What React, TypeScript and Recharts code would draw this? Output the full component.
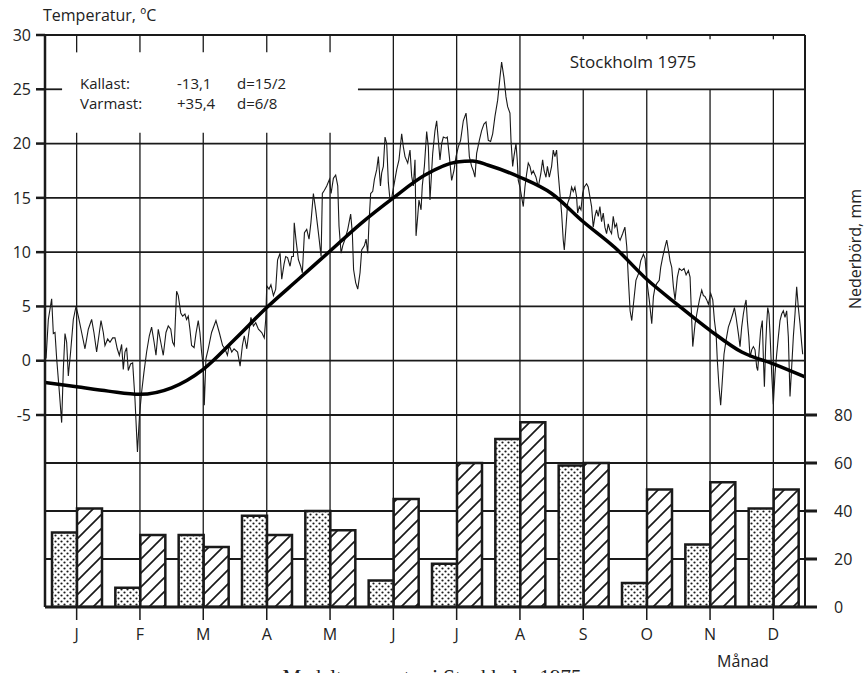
import { ComposedChart, Bar, Line, XAxis, YAxis, ReferenceLine } from 'recharts';

// month letters and mid-month positions (day of year, equal month widths)
const months = ['J', 'F', 'M', 'A', 'M', 'J', 'J', 'A', 'S', 'O', 'N', 'D'];
const monthMid = [15.2, 45.6, 76.0, 106.5, 136.9, 167.3, 197.7, 228.1, 258.5, 289.0, 319.4, 349.8];

// precipitation, mm: 1975 (dotted) and normal (hatched)
const rain1975 = [31, 8, 30, 38, 40, 11, 18, 70, 59, 10, 26, 41];
const rainNormal = [41, 30, 25, 30, 32, 45, 60, 77, 60, 49, 52, 49];

// normal temperature curve
const normalDay = [0, 15.2, 30.4, 45.6, 60.8, 76, 91.3, 106.5, 121.7, 136.9, 152.1, 167.3, 182.5, 197.7, 205.3, 212.9, 228.1, 243.3, 258.5, 273.8, 289, 304.2, 319.4, 334.6, 349.8, 365];
const normalTemp = [-2.0, -2.4, -2.8, -3.1, -2.5, -0.8, 2.0, 4.9, 7.5, 10.1, 12.7, 15.0, 17.1, 18.3, 18.4, 18.0, 16.9, 15.4, 12.8, 10.4, 7.5, 5.1, 2.8, 0.8, -0.3, -1.5];

// daily mean temperature 1975 (day of year, °C)
const dailyDay = [
  0.5, 1.6, 3.2, 4.0, 4.8, 5.6, 6.9, 8.0, 8.8, 9.6, 10.4, 11.2, 12.3, 13.6, 14.9, 16.0, 17.6, 19.2, 20.8, 22.4,
  23.5, 24.8, 26.1, 26.9, 28.0, 28.8, 30.1, 31.2, 32.5, 33.6, 34.7, 35.7, 36.8, 37.6, 38.4, 39.2, 40.0, 41.1, 42.1, 43.2,
  44.4, 45.4, 46.4, 47.5, 48.8, 50.1, 51.2, 52.4, 53.3, 54.4, 55.6, 56.8, 58.1, 59.2, 60.4, 61.3, 62.1, 63.2, 64.0, 65.2,
  66.1, 67.2, 68.0, 68.8, 69.6, 70.4, 71.6, 72.5, 73.6, 74.4, 75.2, 76.0, 76.5, 77.3, 78.4, 80.0, 82.1, 83.7, 85.3, 86.4,
  87.6, 88.5, 89.7, 90.8,
  92.5, 93.7, 94.8, 95.7, 96.9, 97.7, 98.9, 100.1, 101.2, 102.5, 104.1, 105.3, 106.0, 106.5, 107.6, 108.5, 109.7, 110.8, 111.7, 112.9,
  113.7, 114.8, 115.6, 116.5, 117.7, 118.5, 119.3, 119.7, 120.5, 121.7, 122.8, 123.6, 124.6, 125.7, 126.8, 127.7, 128.9, 130.0, 131.3, 132.6,
  133.2, 134.2, 135.3, 136.6, 137.4, 138.5, 139.6, 140.6, 141.2, 142.2, 143.0, 144.1, 145.4, 146.0, 146.8, 147.6, 148.2, 149.2, 150.2, 151.3,
  152.1, 153.4, 154.2, 155.0, 155.6, 156.4, 157.4, 158.2, 159.3, 160.1, 161.1, 161.7, 162.5, 163.3, 164.1, 164.9, 165.7, 166.5, 167.8, 168.9,
  170.0, 171.3, 172.1, 172.9, 174.2, 175.3, 176.1, 176.9, 177.7, 178.2, 179.0, 179.6, 180.6, 181.2, 182.2, 183.3, 184.1, 184.9,
  186.2, 187.3, 188.1, 188.9, 189.7, 190.5, 191.3, 192.6, 193.2, 194.2, 195.3, 196.4, 197.4, 198.5, 199.6, 200.9, 202.2, 203.0, 203.8, 204.9,
  205.7, 206.5, 207.3, 208.6, 209.7, 210.8, 211.8, 212.9, 214.0, 215.0, 216.1, 217.4, 218.5, 219.3, 220.4, 221.4, 222.2, 223.3, 223.8, 224.6,
  225.2, 226.2, 226.8, 227.3, 228.1, 228.9, 229.7, 230.5, 231.3, 232.1, 232.9, 233.7, 234.5, 235.8, 236.9, 238.1, 239.0, 239.7, 240.6, 241.3,
  242.2, 243.3, 244.1, 244.9, 245.7, 246.5, 247.3, 248.1, 248.9, 249.4, 250.2, 251.0, 252.1, 252.9, 253.7, 254.5, 255.3, 255.8, 256.6, 257.4,
  258.2, 259.0, 260.1, 260.9, 261.7, 262.5, 263.3, 264.1, 264.9, 265.7, 266.5, 267.3, 268.1, 268.9, 269.7, 270.5, 271.3, 272.1, 272.9, 273.7,
  274.5, 275.4, 276.2,
  277.4, 278.5, 279.4, 280.2, 281.0, 281.8, 282.6, 283.8, 285.0, 286.1, 287.4, 288.2, 289.0, 290.2, 291.4, 292.2, 293.0, 293.8, 295.0, 295.7,
  296.6, 297.8, 298.6, 299.4, 300.2, 301.0, 301.8, 302.6, 303.7, 304.6, 305.8, 306.9, 307.9, 309.0, 309.8, 310.6, 311.1, 312.2, 313.3, 314.3,
  315.4, 316.2, 317.0, 317.8, 318.6, 319.7, 320.7, 321.5, 322.3, 322.9, 323.7, 324.5, 325.3, 326.1, 327.1, 328.2, 329.3, 330.3, 331.1, 331.9,
  333.0, 333.8, 334.6, 335.4, 336.2, 336.7, 337.3, 338.0, 338.6, 339.4, 340.2, 341.0, 341.8, 342.3, 343.1, 343.7, 344.5, 345.0, 345.5, 346.1,
  346.6, 347.1, 347.7, 348.2, 349.0, 349.8, 350.6, 351.4, 352.2, 353.0, 353.8, 354.6, 355.4, 356.2, 357.0, 357.8, 358.6, 359.4, 360.2, 361.0,
  361.8, 362.6, 363.4, 363.9,
];
const dailyTemp = [
  0.2, 3.8, 5.7, 2.5, 2.6, 0.2, -2.9, -5.7, -0.8, 2.5, 1.7, -1.4, 0.8, 3.8, 5.0, 4.1, 2.6, 1.1, 2.9, 3.8,
  2.6, 0.8, 2.6, 3.7, 2.6, 1.4, 2.0, 1.7, 2.1, 2.1, 1.1, 0.5, 1.5, -0.8, 0.8, 1.2, -0.9, -0.3, -0.2, -3.5,
  -8.4, -5.0, -2.9, -1.1, 0.8, 2.3, 3.1, 1.7, 0.5, 2.9, 1.7, 0.5, 2.6, 3.2, 2.9, 1.7, 1.4, 6.4, 6.0, 4.4,
  4.1, 4.3, 3.8, 4.1, 2.9, 1.4, 1.2, 2.5, 3.7, 2.6, 0.8, -0.5, -4.1, 0.2, 1.1, 2.6, 3.7, 2.6, 1.4, 1.1,
  0.5, 1.4, 0.8, 1.1,
  0.8, -0.5, 1.4, 2.3, 1.1, 2.3, 4.0, 3.2, 3.5, 2.9, 2.6, 2.1, 3.8, 6.9, 6.6, 7.0, 6.0, 6.6, 9.3, 9.9,
  7.5, 8.9, 9.6, 9.5, 8.7, 9.6, 9.6, 12.7, 11.2, 9.3, 8.7, 8.1, 11.8, 12.1, 11.2, 12.7, 15.4, 13.9, 11.8, 9.6,
  15.4, 15.7, 16.1, 16.7, 15.4, 16.8, 17.1, 16.1, 12.4, 9.9, 10.6, 11.2, 12.1, 12.7, 13.5, 11.8, 8.4, 7.2, 6.6, 8.1,
  10.2, 10.6, 11.2, 9.9, 12.7, 15.4, 15.6, 16.7, 17.6, 18.8, 16.1, 17.3, 17.9, 20.6, 20.0, 16.4, 14.8, 15.0, 16.4, 17.6,
  18.5, 20.9, 19.7, 18.8, 18.2, 19.4, 17.0, 16.1, 18.5, 11.5, 13.3, 14.8, 13.9, 16.1, 17.9, 21.1, 19.7, 14.8,
  19.1, 21.2, 22.1, 20.3, 18.5, 20.0, 20.6, 20.5, 20.6, 18.8, 16.6, 17.5, 18.8, 19.7, 20.3, 22.1, 22.8, 21.2, 18.8, 17.9,
  17.5, 16.9, 19.1, 20.3, 21.2, 21.8, 22.0, 20.3, 20.2, 20.9, 22.5, 24.0, 26.1, 27.5, 26.1, 24.3, 23.4, 22.8, 20.3, 17.9,
  18.8, 20.0, 18.5, 16.6, 16.0, 15.1, 14.2, 16.0, 17.2, 18.2, 17.9, 17.2, 17.5, 16.9, 16.0, 17.2, 18.5, 17.5, 16.9, 17.9,
  16.9, 17.9, 19.4, 18.8, 19.4, 17.2, 15.4, 13.6, 11.1, 10.2, 12.3, 14.5, 15.1, 16.0, 15.6, 16.0, 15.1, 13.6, 14.2, 13.9,
  15.4, 16.0, 16.3, 16.0, 15.1, 14.2, 12.3, 13.3, 13.9, 13.3, 14.2, 12.8, 13.6, 12.3, 11.7, 12.6, 12.0, 11.7, 13.3, 12.3,
  12.6, 11.4, 11.1,
  11.7, 12.3, 10.5, 7.4, 4.6, 3.7, 5.2, 7.4, 8.0, 9.2, 9.8, 9.4, 7.4, 5.6, 3.4, 5.9, 6.8, 7.1, 7.4, 8.6,
  9.5, 10.5, 11.1, 10.2, 9.2, 8.6, 6.8, 5.6, 7.7, 8.5, 8.3, 8.5, 7.9, 8.3, 7.7, 3.7, 1.3, 3.4, 4.6, 5.6,
  6.5, 6.0, 5.9, 5.6, 5.2, 6.2, 5.6, 3.7, 2.5, 0.0, -2.4, -4.1, -1.8, 0.6, 1.9, 3.1, 3.7, 4.3, 4.9, 4.0,
  2.5, 1.3, 3.1, 4.3, 5.2, 5.6, 3.7, 2.2, 0.3, 1.0, 1.3, 1.0, -0.6, -0.9, 1.3, 2.8, 3.7, 0.3, -2.4, 1.3,
  3.4, 4.9, 4.3, 2.5, -1.2, -4.0, -1.2, 0.6, 2.2, 3.7, 4.3, 4.6, 4.0, 4.6, 2.2, -3.3, -0.6, 2.2, 4.3, 6.8,
  4.9, 3.4, 1.6, 0.6,
];

const barData = months.map((month, i) => ({ month, a: rain1975[i], b: rainNormal[i] }));
const dailyData = dailyDay.map((d, i) => ({ d, t: dailyTemp[i] }));
const normalData = normalDay.map((d, i) => ({ d, t: normalTemp[i] }));

const INK = '#1a1a1a';
const FONT = '"Open Sans", "Noto Sans", sans-serif';
const TEMP_MIN = -22.684;
const TEMP_MAX = 30;
const GRID_Z = -50;

export default function App() {
  const tick = { fill: '#222', fontSize: 16, fontFamily: FONT };
  const hGrid = { stroke: INK, strokeWidth: 1.8, zIndex: GRID_Z };
  const vGrid = { stroke: INK, strokeWidth: 1.3, zIndex: GRID_Z };

  return (
    <div style={{ position: 'absolute', left: 0, top: 0, width: 865, height: 673, background: '#fff' }}>
      <ComposedChart
        width={865}
        height={673}
        data={barData}
        margin={{ top: 35, right: 0, bottom: 0, left: 0 }}
        barGap={0}
      >
        <defs>
          <pattern id="dots" width="6" height="6" patternUnits="userSpaceOnUse">
            <rect width="6" height="6" fill="#fff" />
            <circle cx="1.5" cy="1.5" r="1.1" fill={INK} />
            <circle cx="4.5" cy="4.5" r="1.1" fill={INK} />
          </pattern>
          <pattern id="hatch" width="14" height="14" patternUnits="userSpaceOnUse">
            <rect width="14" height="14" fill="#fff" />
            <path d="M0,14 L14,0 M-4,4 L4,-4 M10,18 L18,10" stroke={INK} strokeWidth="1.7" />
          </pattern>
        </defs>

        {/* horizontal grid */}
        <ReferenceLine xAxisId="day" yAxisId="t" y={30} stroke={INK} strokeWidth={2} zIndex={GRID_Z} />
        <ReferenceLine xAxisId="day" yAxisId="t" segment={[{ x: 0, y: 25 }, { x: 8.2, y: 25 }]} {...hGrid} />
        <ReferenceLine xAxisId="day" yAxisId="t" segment={[{ x: 150.3, y: 25 }, { x: 365, y: 25 }]} {...hGrid} />
        {[20, 15, 10, 5, 0, -5].map((v) => (
          <ReferenceLine key={`t${v}`} xAxisId="day" yAxisId="t" y={v} {...hGrid} />
        ))}
        {[60, 40, 20].map((v) => (
          <ReferenceLine key={`p${v}`} xAxisId="day" yAxisId="p" y={v} {...hGrid} />
        ))}

        {/* vertical grid at mid-month */}
        {monthMid.map((m, i) => {
          const top = i < 5 ? 21 : i < 8 ? 30 : 25;
          return (
            <ReferenceLine
              key={`v${i}`}
              xAxisId="day"
              yAxisId="t"
              segment={[{ x: m, y: top }, { x: m, y: TEMP_MIN }]}
              {...vGrid}
            />
          );
        })}
        {monthMid.slice(0, 5).map((m, i) => (
          <ReferenceLine key={`tt${i}`} xAxisId="day" yAxisId="t" segment={[{ x: m, y: 30 }, { x: m, y: 28.4 }]} {...vGrid} />
        ))}
        {monthMid.slice(8).map((m, i) => (
          <ReferenceLine key={`ts${i}`} xAxisId="day" yAxisId="t" segment={[{ x: m, y: 30 }, { x: m, y: 29.6 }]} {...vGrid} />
        ))}

        <XAxis
          xAxisId="day"
          type="number"
          dataKey="d"
          domain={[0, 365]}
          ticks={monthMid}
          interval={0}
          allowDataOverflow
          tickFormatter={(_v: number, i: number) => months[i]}
          tick={tick}
          tickSize={13}
          tickMargin={9}
          height={66}
          axisLine={{ stroke: INK, strokeWidth: 3 }}
          tickLine={{ stroke: INK, strokeWidth: 1.5 }}
        />
        <XAxis xAxisId="mon" dataKey="month" hide allowDuplicatedCategory />
        <YAxis
          yAxisId="t"
          orientation="left"
          width={45}
          domain={[TEMP_MIN, TEMP_MAX]}
          ticks={[-5, 0, 5, 10, 15, 20, 25, 30]}
          interval={0}
          allowDataOverflow
          tick={tick}
          tickSize={9}
          tickMargin={5}
          axisLine={{ stroke: INK, strokeWidth: 2.5 }}
          tickLine={{ stroke: INK, strokeWidth: 2.5 }}
        />
        <YAxis
          yAxisId="p"
          orientation="right"
          width={60}
          domain={[0, 238.33]}
          ticks={[0, 20, 40, 60, 80]}
          interval={0}
          allowDataOverflow
          tick={tick}
          tickSize={12}
          tickMargin={17}
          axisLine={{ stroke: INK, strokeWidth: 2 }}
          tickLine={{ stroke: INK, strokeWidth: 3 }}
        />

        <Bar xAxisId="mon" yAxisId="p" dataKey="a" barSize={25} fill="url(#dots)" stroke={INK} strokeWidth={2.5} isAnimationActive={false} />
        <Bar xAxisId="mon" yAxisId="p" dataKey="b" barSize={25} fill="url(#hatch)" stroke={INK} strokeWidth={2.5} isAnimationActive={false} />

        <Line
          xAxisId="day"
          yAxisId="t"
          data={dailyData}
          dataKey="t"
          type="linear"
          stroke={INK}
          strokeWidth={1.1}
          dot={false}
          isAnimationActive={false}
        />
        <Line
          xAxisId="day"
          yAxisId="t"
          data={normalData}
          dataKey="t"
          type="monotone"
          stroke="#000"
          strokeWidth={3.5}
          dot={false}
          isAnimationActive={false}
        />

        <text x={43} y={21} fontFamily={FONT} fontSize={16} fill="#222">Temperatur, ºC</text>
        <g fontFamily={FONT} fontSize={15} fill="#222">
          <text x={80} y={89}>Kallast:</text>
          <text x={177} y={89}>-13,1</text>
          <text x={237} y={89}>d=15/2</text>
          <text x={80} y={109}>Varmast:</text>
          <text x={177} y={109}>+35,4</text>
          <text x={237} y={109}>d=6/8</text>
        </g>
        <text x={633} y={68} textAnchor="middle" fontFamily={FONT} fontSize={17} fill="#222">Stockholm 1975</text>
        <text
          x={0}
          y={0}
          transform="translate(861, 249) rotate(-90)"
          textAnchor="middle"
          fontFamily={FONT}
          fontSize={16}
          fill="#222"
        >
          Nederbörd, mm
        </text>
        <text x={743} y={667} textAnchor="middle" fontFamily={FONT} fontSize={16} fill="#222">Månad</text>
        <text x={432} y={684} textAnchor="middle" fontFamily="'Liberation Serif', serif" fontSize={21} fill="#222">
          Medeltemperatur i Stockholm 1975
        </text>
      </ComposedChart>
    </div>
  );
}
